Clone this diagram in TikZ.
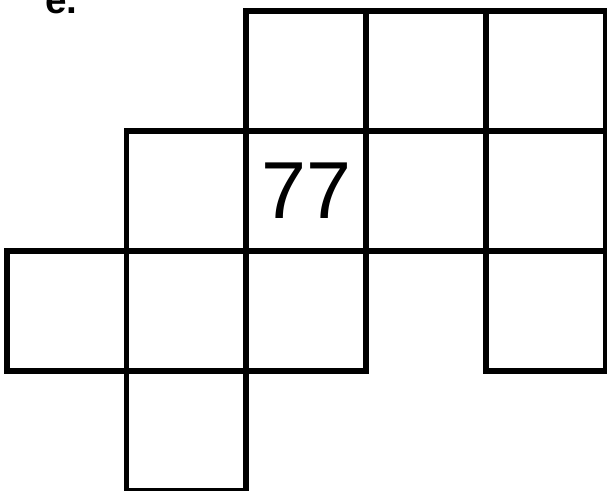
\documentclass[tikz,border=0pt]{standalone}
\usepackage{fontspec}
\setmainfont{Liberation Sans}
\usetikzlibrary{positioning}

\tikzset{
  cell/.style={draw=black, line width=0.12cm, minimum size=2.4cm, inner sep=0pt, outer sep=0pt},
}

\begin{document}
\begin{tikzpicture}[black]

	\useasboundingbox (0,0) rectangle (12.14,9.8);

	\node[anchor=base west, inner sep=0pt, font=\fontsize{22}{26}\selectfont\bfseries] (tag) at (0.9,9.54) {e.};

	% squares, (column/row) counted from top left
	\foreach \c/\r in {2/0, 3/0, 4/0, 1/1, 3/1, 4/1, 0/2, 1/2, 2/2, 4/2, 1/3}
		\node[cell] (c\c\r) at ({1.33+2.4*\c},{8.38-2.4*\r}) {};

	\node[cell, font=\fontsize{46}{50}\selectfont] (c21) at ({1.33+2.4*2},{8.38-2.4*1}) {77};

\end{tikzpicture}
\end{document}
